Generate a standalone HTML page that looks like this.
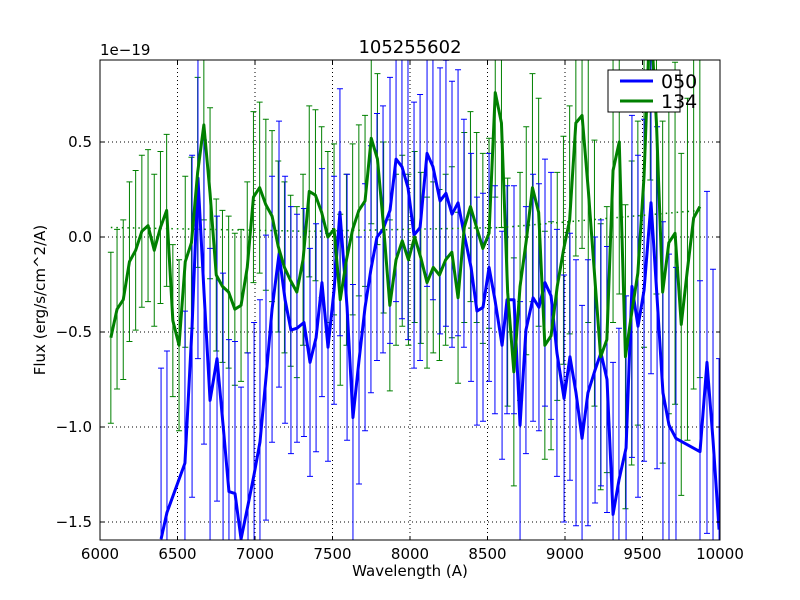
<!DOCTYPE html>
<html><head><meta charset="utf-8"><style>
html,body{margin:0;background:#fff;overflow:hidden;width:800px;height:600px}
svg{display:block;font-family:"DejaVu Sans","Liberation Sans",sans-serif}
</style></head><body>
<svg id="chart" width="800" height="600" viewBox="0 0 800 600" xmlns="http://www.w3.org/2000/svg">
<rect width="800" height="600" fill="#fff"/>
<defs><clipPath id="clip"><rect x="100" y="60" width="620" height="480"/></clipPath></defs>
<text x="410" y="53" font-size="18" text-anchor="middle">105255602</text>
<text x="100" y="55" font-size="15">1e−19</text>
<g id="grid"></g>
<g id="plot" clip-path="url(#clip)"></g>
<rect x="100" y="60" width="620" height="480" fill="none" stroke="#000" stroke-width="1"/>
<g id="ticks"></g>
<text x="410" y="576" font-size="15" text-anchor="middle">Wavelength (A)</text>
<text x="45" y="300" font-size="15" text-anchor="middle" transform="rotate(-90 45 300)">Flux (erg/s/cm^2/A)</text>
<g>
<rect x="608" y="70" width="72" height="42" fill="#fff" stroke="#000" stroke-width="1"/>
<line x1="620" y1="81" x2="653" y2="81" stroke="#0000ff" stroke-width="3"/>
<text x="661" y="88" font-size="19">050</text>
<line x1="620" y1="101" x2="653" y2="101" stroke="#008000" stroke-width="3"/>
<text x="661" y="108" font-size="19">134</text>
</g>
</svg>
<script>
const xTicks=[6000,6500,7000,7500,8000,8500,9000,9500,10000];
const yTicks=[-1.5,-1.0,-0.5,0.0,0.5];
const yTickLabels=["−1.5","−1.0","−0.5","0.0","0.5"];
const greenWave=[6070,6110,6150,6190,6230,6270,6310,6350,6390,6430,6470,6510,6550,6590,6630,6670,6710,6750,6790,6830,6870,6910,6950,6990,7030,7070,7110,7150,7190,7230,7270,7310,7350,7390,7430,7470,7510,7550,7590,7630,7670,7710,7750,7790,7830,7870,7910,7950,7990,8030,8070,8110,8150,8190,8230,8270,8310,8350,8390,8430,8470,8510,8550,8590,8630,8670,8710,8750,8790,8830,8870,8910,8950,8990,9030,9070,9110,9150,9190,9230,9270,9310,9350,9390,9430,9470,9510,9550,9590,9630,9670,9710,9750,9790,9830,9870];
const greenFlux=[-0.53,-0.38,-0.33,-0.13,-0.07,0.03,0.06,-0.07,0.05,0.14,-0.44,-0.57,-0.13,-0.03,0.34,0.59,0.23,-0.2,-0.26,-0.29,-0.38,-0.36,-0.16,0.21,0.26,0.17,0.11,-0.05,-0.16,-0.23,-0.29,-0.12,0.24,0.22,0.13,0.0,0.04,-0.33,-0.12,0.04,0.14,0.19,0.52,0.41,0.05,-0.36,-0.12,-0.02,-0.12,0.0,-0.11,-0.24,-0.16,-0.2,-0.12,-0.08,-0.32,0.05,0.16,0.05,-0.06,0.02,0.76,0.6,-0.29,-0.71,-0.26,-0.02,0.26,0.13,-0.57,-0.52,-0.26,-0.07,0.09,0.6,0.64,0.25,-0.19,-0.63,-0.54,0.35,0.5,-0.63,-0.4,-0.19,0.32,1.2,0.6,-0.29,-0.03,0.02,-0.46,-0.17,0.1,0.16];
const greenErr=[0.45,0.42,0.42,0.42,0.42,0.4,0.4,0.4,0.4,0.4,0.4,0.45,0.45,0.45,0.5,0.5,0.45,0.4,0.4,0.4,0.4,0.4,0.45,0.45,0.45,0.45,0.45,0.45,0.45,0.45,0.45,0.45,0.45,0.45,0.45,0.45,0.45,0.45,0.45,0.45,0.45,0.45,0.45,0.45,0.45,0.45,0.45,0.45,0.45,0.45,0.45,0.45,0.45,0.45,0.45,0.45,0.45,0.5,0.5,0.5,0.5,0.5,0.55,0.55,0.6,0.6,0.6,0.6,0.6,0.6,0.6,0.6,0.6,0.6,0.6,0.7,0.7,0.7,0.7,0.7,0.7,0.8,0.8,0.8,0.8,0.8,0.9,0.9,0.9,0.9,0.9,0.9,0.9,0.9,0.9,0.9];
const contWave=[6070,7350,8590,9870];
const contFlux=[0.05,0.03,0.05,0.14];
const blueWave=[6394,6432,6548,6594,6632,6671,6710,6755,6794,6832,6871,6910,6955,6994,7032,7071,7110,7155,7194,7232,7271,7316,7355,7394,7432,7471,7510,7548,7594,7632,7671,7710,7748,7787,7826,7871,7910,7948,7987,8026,8065,8110,8148,8194,8232,8271,8310,8348,8394,8432,8471,8510,8548,8594,8626,8671,8710,8748,8794,8832,8871,8910,8948,8994,9032,9071,9110,9148,9194,9232,9271,9310,9348,9394,9432,9471,9510,9555,9594,9632,9671,9716,9871,9916,9955,9994];
const blueFlux=[-1.59,-1.45,-1.19,-0.47,0.31,-0.29,-0.86,-0.64,-0.99,-1.34,-1.35,-1.59,-1.41,-1.25,-1.08,-0.74,-0.38,-0.09,-0.33,-0.49,-0.48,-0.45,-0.66,-0.53,-0.24,-0.58,-0.28,0.13,-0.37,-0.95,-0.65,-0.37,-0.17,0.0,0.04,0.14,0.41,0.37,0.26,0.01,0.05,0.44,0.37,0.19,0.23,0.12,0.18,0.02,-0.16,-0.39,-0.37,-0.16,-0.33,-0.57,-0.33,-0.33,-0.99,-0.49,-0.32,-0.37,-0.24,-0.31,-0.61,-0.85,-0.63,-0.82,-1.06,-0.82,-0.7,-0.61,-0.75,-1.46,-1.28,-1.11,-0.26,-0.47,-0.28,0.18,-0.32,-0.82,-0.99,-1.06,-1.13,-0.66,-1.07,-1.54];
const blueErr=[0.9,0.85,0.8,0.9,0.95,0.8,0.8,0.75,0.8,0.8,0.8,0.8,0.8,0.8,0.75,0.75,0.7,0.7,0.65,0.65,0.6,0.6,0.6,0.6,0.6,0.6,0.6,0.65,0.7,0.7,0.65,0.65,0.65,0.65,0.65,0.7,0.75,0.8,0.8,0.7,0.7,0.7,0.7,0.7,0.7,0.7,0.7,0.6,0.6,0.6,0.6,0.6,0.6,0.6,0.6,0.6,0.65,0.65,0.65,0.65,0.65,0.65,0.65,0.65,0.65,0.7,0.7,0.7,0.7,0.7,0.7,0.8,0.8,0.8,0.9,0.9,0.9,0.9,0.9,0.9,0.9,0.9,0.9,0.9,0.9,0.9];

const NS="http://www.w3.org/2000/svg";
const X0=100,X1=720,Y0=60,Y1=540,xMin=6000,xMax=10000,yMin=-1.5947,yMax=0.9316;
function xs(v){return X0+(v-xMin)/(xMax-xMin)*(X1-X0);}
function ys(v){return Y1-(v-yMin)/(yMax-yMin)*(Y1-Y0);}
function mk(tag,attrs,parent){const e=document.createElementNS(NS,tag);for(const k in attrs)e.setAttribute(k,attrs[k]);parent.appendChild(e);return e;}
const grid=document.getElementById('grid'),plot=document.getElementById('plot'),ticks=document.getElementById('ticks');
xTicks.forEach(t=>{
  const x=xs(t);
  const g=mk('line',{x1:x,x2:x,y1:Y0,y2:Y1,stroke:'#000','stroke-width':1,'stroke-dasharray':'1,3'},grid);
  
  
  mk('line',{x1:x,x2:x,y1:Y1,y2:Y1-4,stroke:'#000'},ticks);
  mk('line',{x1:x,x2:x,y1:Y0,y2:Y0+4,stroke:'#000'},ticks);
  const l=mk('text',{x:x,y:Y1+19,'font-size':15,'text-anchor':'middle'},ticks);
  l.textContent=t;
  
  
});
yTicks.forEach((t,i)=>{
  const y=ys(t);
  const g=mk('line',{x1:X0,x2:X1,y1:y,y2:y,stroke:'#000','stroke-width':1,'stroke-dasharray':'1,3'},grid);
  
  
  mk('line',{x1:X0,x2:X0+4,y1:y,y2:y,stroke:'#000'},ticks);
  mk('line',{x1:X1,x2:X1-4,y1:y,y2:y,stroke:'#000'},ticks);
  const l=mk('text',{x:X0-8,y:y+5,'font-size':15,'text-anchor':'end'},ticks);
  l.textContent=yTickLabels[i];
  
  
});
function errbars(wave,flux,err,color,name){
  wave.forEach((w,i)=>{
    const x=xs(w),ya=ys(flux[i]+err[i]),yb=ys(flux[i]-err[i]);
    const e=mk('path',{d:`M${x},${ya}V${yb}M${x-3},${ya}H${x+3}M${x-3},${yb}H${x+3}`,stroke:color,'stroke-width':1,fill:'none'},plot);
    
    
  });
}
function line(wave,flux,color,w,name,dash){
  const p=mk('polyline',{points:wave.map((v,i)=>xs(v)+','+ys(flux[i])).join(' '),stroke:color,'stroke-width':w,fill:'none','stroke-linejoin':'round'},plot);
  if(dash)p.setAttribute('stroke-dasharray',dash);
  
  
}
errbars(greenWave,greenFlux,greenErr,'#008000','errorbar-134');
errbars(blueWave,blueFlux,blueErr,'#0000ff','errorbar-050');
line(contWave,contFlux,'#008000',1.5,'continuum-134','1.5,4');
line(blueWave,blueFlux,'#0000ff',3,'series-050');
line(greenWave,greenFlux,'#008000',3,'series-134');
</script>
</body></html>
